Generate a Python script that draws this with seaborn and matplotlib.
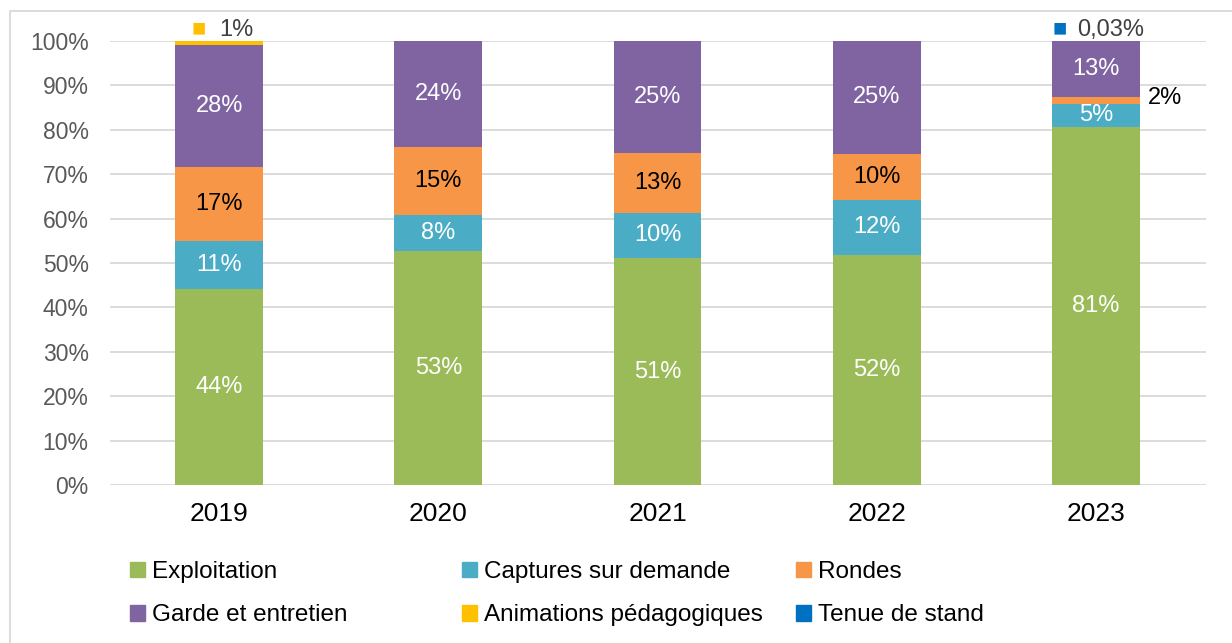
import matplotlib
matplotlib.use("Agg")
import matplotlib.pyplot as plt
import matplotlib.patches as mpatches
import numpy as np
import pandas as pd
import seaborn as sns

# data (shares in %)
years = ["2019", "2020", "2021", "2022", "2023"]
categories = ["Exploitation", "Captures sur demande", "Rondes",
              "Garde et entretien", "Animations pédagogiques", "Tenue de stand"]
exploitation = [44.1, 52.7, 51.1, 51.8, 80.7]
captures = [10.9, 8.1, 10.2, 12.4, 5.1]
rondes = [16.6, 15.4, 13.4, 10.4, 1.6]
garde = [27.6, 23.8, 25.3, 25.4, 12.57]
animations = [0.8, 0.0, 0.0, 0.0, 0.0]
stand = [0.0, 0.0, 0.0, 0.0, 0.03]

colors = ["#9BBB59", "#4BACC6", "#F79646", "#8064A2", "#FFC000", "#0070C0"]
text_colors = ["white", "white", "black", "white", "#404040", "#404040"]
yticks = np.arange(0, 101, 10)

df = pd.DataFrame({"year": years})
series = [exploitation, captures, rondes, garde, animations, stand]
for name, vals in zip(categories, series):
    df[name] = vals
cum = df[categories].cumsum(axis=1)

sns.set_theme(style="white")
plt.rcParams["font.family"] = ["Liberation Sans", "DejaVu Sans"]

fig = plt.figure(figsize=(12.32, 6.43), dpi=100)
ax = fig.add_axes([109.5 / 1232, 1 - 485 / 643, 1096 / 1232, 444 / 643])

# stacked bars: draw cumulative totals from the top down
for i in range(len(categories) - 1, -1, -1):
    sns.barplot(x=df["year"], y=cum[categories[i]], color=colors[i],
                width=0.40, saturation=1, ax=ax, zorder=3, linewidth=0)

# value labels
for j, yr in enumerate(years):
    base = 0.0
    for i, name in enumerate(categories):
        v = df.loc[j, name]
        if v <= 0:
            continue
        if v < 0.1:
            txt = f"{v:.2f}".replace(".", ",") + "%"
        else:
            txt = f"{v:.0f}%"
        if v < 1.0:
            # tiny segment: label above the bar with a colour key
            wide = v < 0.1
            ax.text(j + (0.068 if wide else 0.078), 102.5, txt, ha="center", va="center",
                    fontsize=17, color="#404040", clip_on=False)
            ax.text(j - (0.164 if wide else 0.091), 102.6, "■", ha="center", va="center",
                    fontsize=17, color=colors[i], clip_on=False)
        elif v < 3:
            ax.text(j + 0.315, base + v / 2 + 0.5, txt, ha="center", va="center",
                    fontsize=17, color="black", clip_on=False)
        else:
            ax.text(j, base + v / 2, txt, ha="center", va="center",
                    fontsize=17, color=text_colors[i], zorder=4)
        base += v

ax.set_ylim(0, 100)
ax.set_xlim(-0.5, len(years) - 0.5)
ax.set_yticks(yticks)
ax.set_yticklabels([f"{t}%" for t in yticks])
ax.yaxis.grid(True, color="#D9D9D9", linewidth=1.3, zorder=0)
ax.set_axisbelow(True)
ax.set_xlabel("")
ax.set_ylabel("")
sns.despine(ax=ax, left=True, bottom=True, top=True, right=True)
ax.tick_params(axis="y", labelsize=16.5, labelcolor="#595959", length=0, pad=15)
ax.tick_params(axis="x", labelsize=19, labelcolor="black", length=0, pad=12)

# legend: three columns, two rows
handles = [mpatches.Patch(color=c) for c in colors]
col_x = [130, 462, 796]
order = [(0, 3), (1, 4), (2, 5)]
for x, (a, b) in zip(col_x, order):
    fig.legend([handles[a], handles[b]], [categories[a], categories[b]],
               loc="upper left", bbox_to_anchor=(x / 1232, 1 - 561 / 643),
               frameon=False, fontsize=17.5, handlelength=0.62, handleheight=0.6,
               handletextpad=0.28, labelspacing=0.88, borderpad=0, borderaxespad=0,
               labelcolor="black")

# outer frame
fig.patches.append(mpatches.Rectangle((10 / 1232, -0.1), 1.2, 1.1 - 11 / 643,
                                      transform=fig.transFigure, fill=False,
                                      edgecolor="#D9D9D9", linewidth=1.3))

fig.savefig("out.png", dpi=100)
